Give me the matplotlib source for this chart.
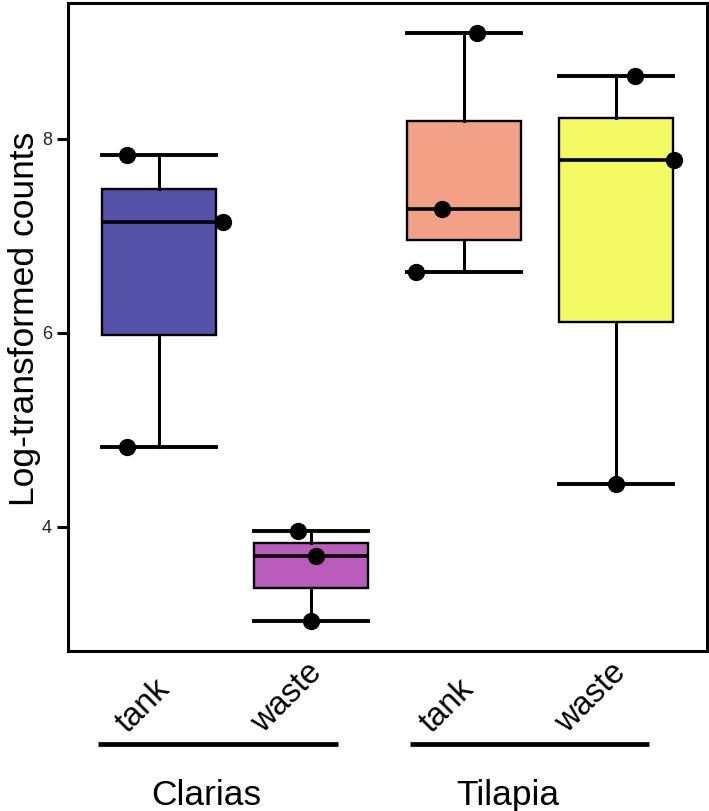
import matplotlib
matplotlib.use("Agg")
from matplotlib import pyplot as plt
import numpy as np

plt.rcParams['font.family'] = ['Liberation Sans', 'DejaVu Sans']

# data
groups = ["Clarias", "Tilapia"]
group_span = [(0.597, 2.175), (2.649, 4.22)]
group_label_x = [1.31, 3.29]
sites = ["tank", "waste", "tank", "waste"]
counts = [[7.83, 7.14, 4.82],
          [3.96, 3.70, 3.03],
          [9.09, 7.28, 6.63],
          [8.65, 7.78, 4.44]]
# horizontal jitter of the points (category units)
jitter = [[-0.21, 0.42, -0.21],
          [-0.085, 0.03, 0.0],
          [0.09, -0.14, -0.31],
          [0.13, 0.38, 0.0]]
colors = ["#0D0887", "#9C179E", "#ED7953", "#F0F921"]

W, H = 709, 811
fig = plt.figure(figsize=(W / 100, H / 100), dpi=100)
ax = fig.add_axes([68 / W, 1 - 651 / H, (707 - 68) / W, (651 - 3) / H])

pos = np.arange(1, len(counts) + 1)
bp = ax.boxplot(counts, positions=pos, widths=0.75, whis=(0, 100),
                patch_artist=True, showfliers=False, capwidths=0.75,
                medianprops=dict(color="black", linewidth=2.6),
                boxprops=dict(edgecolor="black", linewidth=1.7),
                whiskerprops=dict(color="black", linewidth=2.2),
                capprops=dict(color="black", linewidth=2.8))
for patch, c in zip(bp["boxes"], colors):
    patch.set_facecolor(matplotlib.colors.to_rgba(c, 0.7))

for i in range(len(counts)):
    ax.scatter(pos[i] + np.array(jitter[i]), counts[i], s=155, color="black",
               zorder=4, linewidths=0)

ax.set_xlim(0.4, 4.6)
ax.set_ylim(2.72, 9.40)
ax.set_yticks([4, 6, 8])
ax.set_xticks([])
ax.tick_params(axis="y", length=8, width=2.2, pad=3.5, labelsize=13,
               labelcolor="#222222")
for s in ax.spines.values():
    s.set_linewidth(2.2)

ax.set_ylabel("Log-transformed counts", fontsize=25.5)
ax.yaxis.set_label_coords(-0.043, 0.513)

tr = ax.get_xaxis_transform()
for i, lab in enumerate(sites):
    ax.text(pos[i] + 0.11, -0.135, lab, transform=tr, rotation=45,
            ha="right", va="bottom", fontsize=23.5, clip_on=False)

for g, (x0, x1), lx in zip(groups, group_span, group_label_x):
    ax.plot([x0, x1], [-0.1435, -0.1435], transform=tr, color="black",
            linewidth=3.4, clip_on=False, solid_capstyle="butt")
    ax.text(lx, -0.2377, g, transform=tr, ha="center", va="baseline",
            fontsize=25.5, clip_on=False)

fig.savefig("out.png", dpi=100)
